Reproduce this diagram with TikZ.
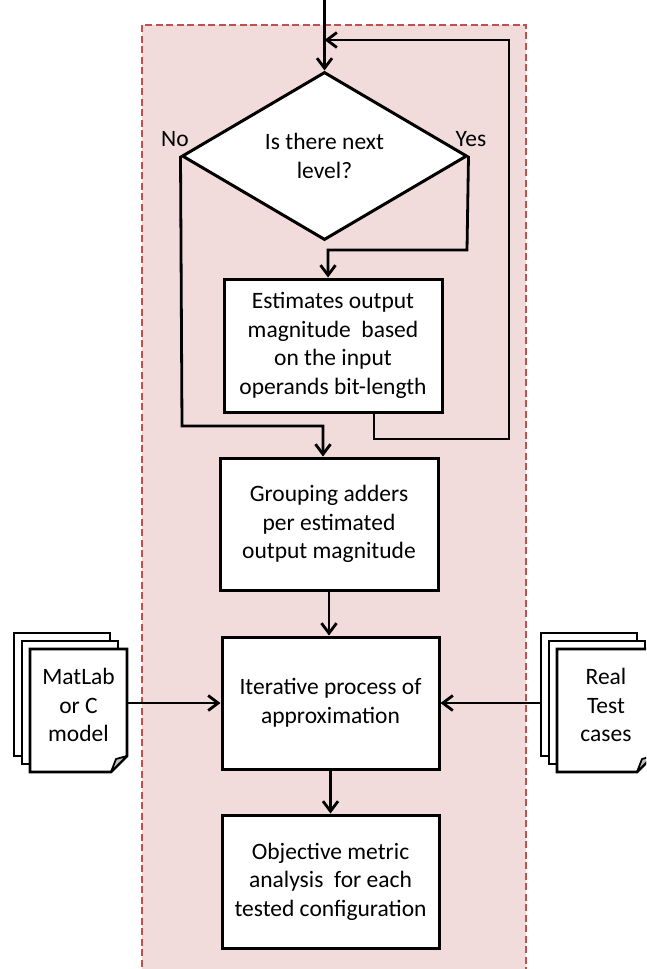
\documentclass[tikz,border=0pt]{standalone}
\usepackage{fontspec}
\setmainfont{Carlito}
\usetikzlibrary{arrows.meta,shapes.geometric,calc}
\definecolor{frameRed}{HTML}{C0504D}
\definecolor{framePink}{HTML}{F2DCDB}
\definecolor{foldGray}{HTML}{BFBFBF}
\begin{document}
\begin{tikzpicture}[x=1pt,y=-1pt,
  font=\fontsize{23.5}{28.5}\selectfont,
  conn/.style={line width=2.8pt},
  arr/.style={conn,-{Straight Barb[length=10pt,width=15pt]}},
  procbox/.style={draw,line width=3pt,fill=white,align=center,inner sep=0pt,
    minimum width=217pt,minimum height=132pt},
  decision/.style={diamond,draw,line width=3pt,fill=white,align=center,inner sep=0pt,
    minimum width=285pt,minimum height=168pt},
  page/.style={draw,line width=2.8pt,fill=white,line join=miter},
  pagetext/.style={align=center,inner sep=0pt}
]
\useasboundingbox (0,0) rectangle (646,969);
\clip (0,0) rectangle (646,969);

% process frame
\draw[frameRed,fill=framePink,line width=2.2pt,dash pattern=on 7pt off 3.5pt]
  (142,25) rectangle (526,990);

% decision and process steps
\node[decision] (dec) at (324.5,156) {Is there next\\level?};
\node[procbox,minimum width=218pt,minimum height=133pt] (est) at (333,345.5)
  {Estimates output\\magnitude\ \ based\\on the input\\operands bit-length};
\node[procbox,minimum width=218pt] (grp) at (329,524)
  {Grouping adders\\per estimated\\output magnitude};
\node[procbox] (itr) at (330.5,703) {Iterative process of\\approximation};
\node[procbox,minimum height=133pt] (obj) at (330.5,881.5)
  {Objective metric\\analysis\ \ for each\\tested configuration};

\node[inner sep=0pt] (no) at (175,139) {No};
\node[inner sep=0pt] (yes) at (471,139) {Yes};

% left document stack
\draw[page] (14,633) rectangle (110,756);
\draw[page] (22,641) rectangle (118,764);
\draw[page] (30,649) -- (127,649) -- (127,756) -- (111,772) -- (30,772) -- cycle;
\draw[line width=1.8pt,fill=foldGray,line join=round] (127,756) -- (116,759) -- (111,772) -- cycle;
\node[pagetext] (docL) at (78.5,705) {MatLab\\or C\\model};
\coordinate (docLout) at (127,703);

% right document stack
\draw[page] (541,633) rectangle (637,756);
\draw[page] (549,641) rectangle (645,764);
\draw[page] (557,649) -- (653,649) -- (653,756) -- (637,772) -- (557,772) -- cycle;
\draw[line width=1.8pt,fill=foldGray,line join=round] (653,756) -- (642,759) -- (637,772) -- cycle;
\node[pagetext] (docR) at (606,705) {Real\\Test\\cases};
\coordinate (docRout) at (541,703);

% connectors
\coordinate (entry) at (324.5,0);
\draw[arr] (entry) -- (dec.north);
\draw[arr] (dec.east) -- (467,250) -- (328,250) -- (328,0 |- est.north);
\draw[arr] (dec.west) -- (182,426) -- (323,426) -- (323,0 |- grp.north);
\draw[arr] (374,0 |- est.south) -- (374,439) -- (509,439) -- (509,40) -- (324.5,40);
\draw[arr] (grp.south) -- (grp.south |- itr.north);
\draw[arr] (itr.south) -- (obj.north);
\draw[arr] (docLout) -- (itr.west);
\draw[arr] (docRout) -- (itr.east);
\end{tikzpicture}
\end{document}
